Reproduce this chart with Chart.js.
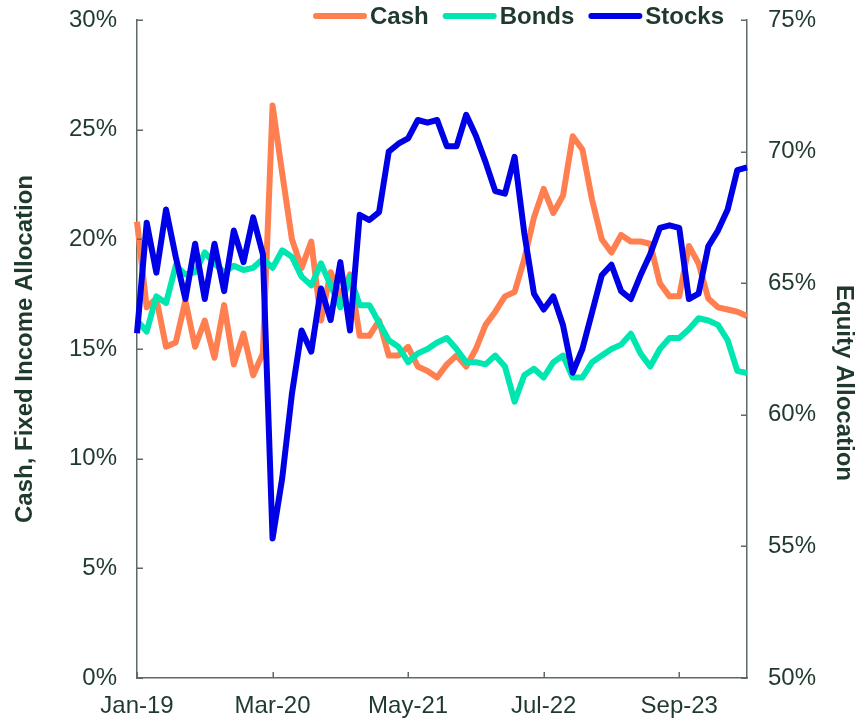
<!DOCTYPE html>
<html><head><meta charset="utf-8">
<script src="https://cdn.jsdelivr.net/npm/chart.js@4"></script>
<style>html,body{margin:0;padding:0;background:#fff}#wrap{width:856px;height:719px;position:relative}</style>
</head><body><div id="wrap"><canvas id="c" width="856" height="719"></canvas></div>
<script>
const months = ['Jan-19','Feb-19','Mar-19','Apr-19','May-19','Jun-19','Jul-19','Aug-19','Sep-19','Oct-19','Nov-19','Dec-19',
'Jan-20','Feb-20','Mar-20','Apr-20','May-20','Jun-20','Jul-20','Aug-20','Sep-20','Oct-20','Nov-20','Dec-20',
'Jan-21','Feb-21','Mar-21','Apr-21','May-21','Jun-21','Jul-21','Aug-21','Sep-21','Oct-21','Nov-21','Dec-21',
'Jan-22','Feb-22','Mar-22','Apr-22','May-22','Jun-22','Jul-22','Aug-22','Sep-22','Oct-22','Nov-22','Dec-22',
'Jan-23','Feb-23','Mar-23','Apr-23','May-23','Jun-23','Jul-23','Aug-23','Sep-23','Oct-23','Nov-23','Dec-23',
'Jan-24','Feb-24','Mar-24','Apr-24'];
const xTickLabels = ['Jan-19','Mar-20','May-21','Jul-22','Sep-23'];
const cash = [20.8,16.9,17.3,15.1,15.3,17.2,15.1,16.3,14.6,17.0,14.3,15.7,
13.8,14.8,26.1,23.0,20.0,18.7,19.9,16.3,18.5,17.4,18.4,15.6,
15.6,16.3,14.7,14.7,15.1,14.2,14.0,13.7,14.3,14.7,14.2,15.0,
16.1,16.7,17.4,17.6,19.1,21.0,22.3,21.2,22.0,24.7,24.1,21.8,
20.0,19.4,20.2,19.9,19.9,19.8,18.0,17.4,17.4,19.7,18.9,17.3,
16.9,16.8,16.7,16.5];
const bonds = [16.3,15.8,17.4,17.1,18.8,18.4,18.5,19.4,18.9,18.5,18.8,18.6,
18.7,19.1,18.7,19.5,19.2,18.3,17.9,18.9,17.9,16.9,18.3,17.0,
17.0,16.2,15.4,15.1,14.4,14.8,15.0,15.3,15.5,15.0,14.4,14.4,
14.3,14.7,14.2,12.6,13.8,14.1,13.7,14.4,14.7,13.7,13.7,14.4,
14.7,15.0,15.2,15.7,14.8,14.2,15.0,15.5,15.5,15.9,16.4,16.3,
16.1,15.4,14.0,13.9];
const stocks = [63.1,67.3,65.4,67.8,66.0,64.4,66.5,64.4,66.5,64.7,67.0,65.8,
67.5,66.1,55.3,57.6,60.8,63.2,62.4,64.8,63.6,65.8,63.2,67.6,
67.4,67.7,70.0,70.3,70.5,71.2,71.1,71.2,70.2,70.2,71.4,70.6,
69.6,68.5,68.4,69.8,66.9,64.6,64.0,64.5,63.4,61.6,62.5,63.9,
65.3,65.7,64.7,64.4,65.3,66.1,67.1,67.2,67.1,64.4,64.6,66.4,
67.0,67.8,69.3,69.4];
const leftTicks = [0,5,10,15,20,25,30];
const rightTicks = [50,55,60,65,70,75];
const rightTitle = 'Equity Allocation';

const TEXT = '#1f3a2d';
const AXIS = '#5d6b64';
const COLORS = {Cash:'#FF7F50', Bonds:'#00E6B0', Stocks:'#0000E6'};
const FAMILY = '"Liberation Sans", Arial, sans-serif';
Chart.defaults.font.family = FAMILY;
Chart.defaults.color = TEXT;

const extras = {
  id:'extras',
  afterDraw(chart){
    const {ctx, chartArea:a, scales:{x, y, y1}} = chart;
    ctx.save();
    ctx.strokeStyle = AXIS; ctx.lineWidth = 1.5;
    ctx.beginPath();
    leftTicks.forEach(v=>{const p=Math.round(y.getPixelForValue(v))+0.25; ctx.moveTo(a.left,p); ctx.lineTo(a.left+6,p);});
    rightTicks.forEach(v=>{const p=Math.round(y1.getPixelForValue(v))+0.25; ctx.moveTo(a.right,p); ctx.lineTo(a.right-6,p);});
    months.forEach((m,i)=>{ if(xTickLabels.includes(m)){const p=Math.round(x.getPixelForValue(i))+0.25; ctx.moveTo(p,a.bottom); ctx.lineTo(p,a.bottom-6);} });
    ctx.stroke();
    // right axis title
    ctx.save();
    ctx.font = 'bold 24px ' + FAMILY;
    ctx.fillStyle = TEXT; ctx.textAlign = 'center'; ctx.textBaseline = 'middle';
    ctx.translate(844, (a.top + a.bottom)/2 + 34);
    ctx.rotate(Math.PI/2);
    ctx.fillText(rightTitle, 0, 0);
    ctx.restore();
    // legend
    ctx.font = 'bold 24px ' + FAMILY;
    ctx.textBaseline = 'middle'; ctx.textAlign = 'left';
    let lx = 313; const ly = 16;
    chart.data.datasets.forEach(ds=>{
      ctx.strokeStyle = ds.borderColor; ctx.lineWidth = 6; ctx.lineCap = 'round';
      ctx.beginPath(); ctx.moveTo(lx+3, ly); ctx.lineTo(lx+51, ly); ctx.stroke();
      ctx.fillStyle = TEXT; ctx.fillText(ds.label, lx+57, ly+1);
      lx += 57 + ctx.measureText(ds.label).width + 14;
    });
    ctx.restore();
  }
};

const fitV = w => s => { s.width = w; s.paddingTop = 0; s.paddingBottom = 0; };

new Chart(document.getElementById('c'), {
  type:'line',
  data:{labels:months, datasets:[
    {label:'Cash', data:cash, yAxisID:'y', borderColor:COLORS.Cash, backgroundColor:COLORS.Cash, order:2},
    {label:'Bonds', data:bonds, yAxisID:'y', borderColor:COLORS.Bonds, backgroundColor:COLORS.Bonds, order:1},
    {label:'Stocks', data:stocks, yAxisID:'y1', borderColor:COLORS.Stocks, backgroundColor:COLORS.Stocks, order:0}
  ]},
  options:{
    responsive:false, animation:false, devicePixelRatio:1,
    layout:{padding:{top:20,left:0,right:0,bottom:0}},
    plugins:{legend:{display:false}, tooltip:{enabled:false}},
    elements:{point:{radius:0}, line:{borderWidth:6, tension:0, borderJoinStyle:'round', fill:false}},
    scales:{
      x:{type:'category', offset:false,
        grid:{display:true, drawOnChartArea:false, drawTicks:false},
        border:{display:true, color:AXIS, width:1.5},
        ticks:{autoSkip:false, maxRotation:0, minRotation:0, padding:14, font:{size:24}, color:TEXT,
          callback:(v,i)=> xTickLabels.includes(months[i]) ? months[i] : null},
        afterFit:s=>{s.height=41;}
      },
      y:{position:'left', min:0, max:30,
        grid:{display:true, drawOnChartArea:false, drawTicks:false},
        border:{display:true, color:AXIS, width:1.5},
        ticks:{stepSize:5, padding:20, font:{size:24}, color:TEXT, callback:v=>v+'%'},
        title:{display:true, text:'Cash, Fixed Income Allocation', color:TEXT, font:{size:24, weight:'bold'}, padding:{top:11,bottom:0}},
        afterFit:fitV(137)
      },
      y1:{position:'right', min:50, max:75,
        grid:{display:true, drawOnChartArea:false, drawTicks:false},
        border:{display:true, color:AXIS, width:1.5},
        ticks:{stepSize:5, padding:21, font:{size:24}, color:TEXT, callback:v=>v+'%'},
        title:{display:false},
        afterFit:fitV(109)
      }
    }
  },
  plugins:[extras]
});
</script></body></html>
